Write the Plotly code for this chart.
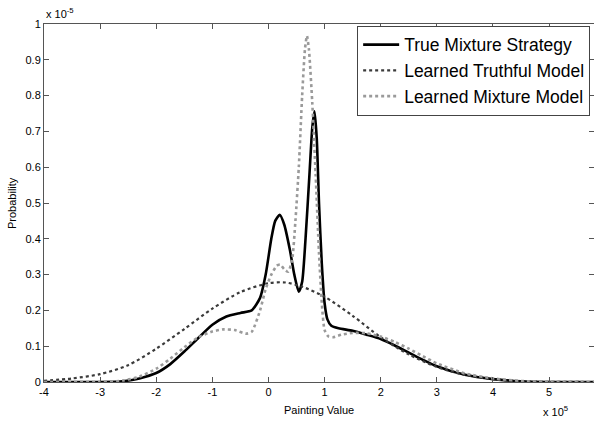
import plotly.graph_objects as go

# True Mixture Strategy (black solid), x in units of 1e5, y in units of 1e-5
x_true = [-4.0, -3.0, -2.6, -2.3, -2.0, -1.75, -1.5, -1.25, -1.0, -0.75, -0.5, -0.3, -0.15, -0.05,
          0.05, 0.12, 0.2, 0.28, 0.38, 0.46, 0.54, 0.6, 0.66, 0.73, 0.78, 0.82, 0.86, 0.9, 0.95,
          1.0, 1.05, 1.12, 1.25, 1.5, 1.75, 2.0, 2.25, 2.5, 2.75, 3.0, 3.5, 4.0, 4.5, 5.0, 5.8]
y_true = [0.0, 0.0, 0.002, 0.01, 0.025, 0.05, 0.085, 0.123, 0.16, 0.183, 0.193, 0.2, 0.235, 0.3,
          0.4, 0.45, 0.467, 0.44, 0.37, 0.3, 0.252, 0.28, 0.4, 0.58, 0.71, 0.756, 0.68, 0.5, 0.33,
          0.22, 0.175, 0.157, 0.15, 0.143, 0.132, 0.12, 0.102, 0.082, 0.062, 0.044, 0.02, 0.008, 0.002, 0.0, 0.0]

# Learned Truthful Model (dark dashed)
x_truthful = [-4.0, -3.5, -3.0, -2.5, -2.0, -1.5, -1.0, -0.5, 0.0, 0.3, 0.6, 1.0, 1.5, 2.0,
              2.5, 3.0, 3.5, 4.0, 4.5, 5.0, 5.8]
y_truthful = [0.003, 0.01, 0.022, 0.047, 0.093, 0.148, 0.205, 0.251, 0.276, 0.278, 0.266, 0.238,
              0.185, 0.125, 0.077, 0.042, 0.02, 0.008, 0.002, 0.0005, 0.0]

# Learned Mixture Model (light gray dotted)
x_mixture = [-4.0, -3.0, -2.6, -2.3, -2.0, -1.75, -1.5, -1.25, -1.0, -0.8, -0.6, -0.4, -0.3, -0.15,
             -0.05, 0.05, 0.15, 0.21, 0.28, 0.35, 0.42, 0.48, 0.54, 0.6, 0.65, 0.685, 0.72, 0.78,
             0.84, 0.9, 0.95, 1.0, 1.07, 1.15, 1.3, 1.5, 1.75, 2.0, 2.25, 2.5, 2.75, 3.0, 3.5,
             4.0, 4.5, 5.0, 5.8]
y_mixture = [0.0, 0.0, 0.004, 0.015, 0.037, 0.065, 0.097, 0.125, 0.141, 0.147, 0.145, 0.135, 0.14, 0.2,
             0.26, 0.3, 0.325, 0.328, 0.315, 0.308, 0.34, 0.45, 0.6, 0.8, 0.93, 0.967, 0.93, 0.78,
             0.58, 0.36, 0.22, 0.145, 0.127, 0.125, 0.132, 0.137, 0.136, 0.127, 0.112, 0.093, 0.072,
             0.052, 0.024, 0.01, 0.003, 0.0005, 0.0]

x_ticks = [-4, -3, -2, -1, 0, 1, 2, 3, 4, 5]
y_ticks = [0, 0.1, 0.2, 0.3, 0.4, 0.5, 0.6, 0.7, 0.8, 0.9, 1]
y_tick_labels = ["0", "0.1", "0.2", "0.3", "0.4", "0.5", "0.6", "0.7", "0.8", "0.9", "1"]

fig = go.Figure()
fig.add_trace(go.Scatter(x=x_true, y=y_true, mode="lines", name="True Mixture Strategy",
                         line=dict(color="black", width=2.6, shape="spline", smoothing=0.6)))
fig.add_trace(go.Scatter(x=x_truthful, y=y_truthful, mode="lines", name="Learned Truthful Model",
                         line=dict(color="#3a3a3a", width=2.2, dash="dot", shape="spline", smoothing=0.8)))
fig.add_trace(go.Scatter(x=x_mixture, y=y_mixture, mode="lines", name="Learned Mixture Model",
                         line=dict(color="#9a9a9a", width=2.6, dash="dot", shape="spline", smoothing=0.6)))

axis_common = dict(showgrid=False, zeroline=False, showline=True, linecolor="#555", linewidth=1,
                   mirror="ticks", ticks="inside", ticklen=5, tickcolor="#555",
                   tickfont=dict(family="Liberation Sans, Arial", size=11, color="black"))

fig.update_layout(
    width=594, height=422,
    margin=dict(l=44, r=0, t=24, b=40),
    paper_bgcolor="white", plot_bgcolor="white",
    font=dict(family="Liberation Sans, Arial", color="black"),
    xaxis=dict(range=[-4, 5.8], tickvals=x_ticks, ticktext=[str(v) for v in x_ticks], **axis_common),
    yaxis=dict(range=[0, 1], tickvals=y_ticks, ticktext=y_tick_labels, **axis_common),
    legend=dict(x=0.993, y=0.995, xanchor="right", yanchor="top",
                bgcolor="white", bordercolor="#444", borderwidth=1,
                font=dict(family="Liberation Sans, Arial", size=17.5, color="black"),
                itemwidth=36, tracegroupgap=0),
    showlegend=True,
    annotations=[
        dict(text="Painting Value", xref="paper", yref="paper", x=0.5, y=0, yshift=-20,
             xanchor="center", yanchor="top", showarrow=False, font=dict(size=11)),
        dict(text="Probability", xref="paper", yref="paper", x=0, y=0.5, xshift=-24,
             xanchor="right", yanchor="middle", textangle=-90, showarrow=False, font=dict(size=11)),
        dict(text="x 10<sup>-5</sup>", xref="paper", yref="paper", x=0, y=1, yshift=2,
             xanchor="left", yanchor="bottom", showarrow=False, font=dict(size=11)),
        dict(text="x 10<sup>5</sup>", xref="paper", yref="paper", x=0.93, y=0, yshift=-20,
             xanchor="center", yanchor="top", showarrow=False, font=dict(size=11)),
    ],
)

fig.write_html("out.html", config={"displayModeBar": False},
               post_script="document.body.style.margin='0';document.body.style.overflow='hidden';")
